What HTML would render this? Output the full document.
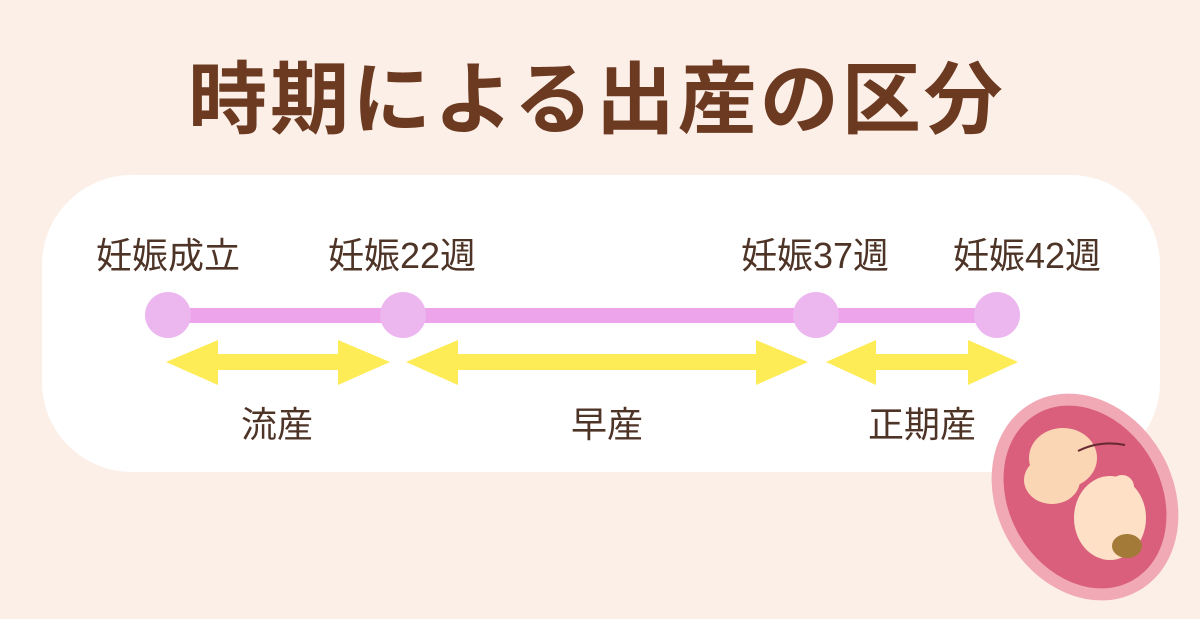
<!DOCTYPE html>
<html><head><meta charset="utf-8"><style>
html,body{margin:0;padding:0}
body{width:1200px;height:619px;background:#fcefe8;position:relative;overflow:hidden;font-family:"Liberation Sans","Noto Sans CJK JP",sans-serif;}
.t{position:absolute;white-space:nowrap;transform:translateX(-50%);color:#4e3427;font-size:36px;line-height:1}
h1{position:absolute;left:597px;top:60px;transform:translateX(-50%);margin:0;font-size:79px;font-weight:bold;color:#6b3a20;white-space:nowrap;line-height:1;letter-spacing:3px}
.panel{position:absolute;left:42px;top:175px;width:1118px;height:297px;background:#fff;border-radius:90px}
</style></head><body>
<h1>時期による出産の区分</h1>
<div class="panel"></div>
<div class="t" style="left:168px;top:238px">妊娠成立</div>
<div class="t" style="left:402px;top:238px">妊娠22週</div>
<div class="t" style="left:815px;top:238px">妊娠37週</div>
<div class="t" style="left:1027px;top:238px">妊娠42週</div>
<div class="t" style="left:277px;top:407px">流産</div>
<div class="t" style="left:607px;top:407px">早産</div>
<div class="t" style="left:922px;top:407px">正期産</div>
<svg width="1200" height="619" style="position:absolute;left:0;top:0">
<rect x="168" y="308" width="830" height="15" fill="#eda4ea"/>
<g fill="#ecb6ef">
<circle cx="168" cy="315" r="23"/><circle cx="403" cy="315" r="23"/><circle cx="816" cy="315" r="23"/><circle cx="997" cy="315" r="23"/>
</g>
<g fill="#fdec55">
<polygon points="166,362 218,340 218,354 338,354 338,340 390,362 338,385 338,370 218,370 218,385"/>
<polygon points="406,362 458,340 458,354 756,354 756,340 808,362 756,385 756,370 458,370 458,385"/>
<polygon points="826,362 876,340 876,354 968,354 968,340 1018,362 968,385 968,370 876,370 876,385"/>
</g>
<g transform="rotate(-30 1085 497)">
<ellipse cx="1085" cy="497" rx="88" ry="108" fill="#f1a9b5"/>
<ellipse cx="1085" cy="497" rx="76" ry="96" fill="#d95f7d"/>
</g>
<ellipse cx="1063" cy="458" rx="34" ry="30" fill="#fbd6b4"/>
<ellipse cx="1052" cy="480" rx="28" ry="24" fill="#fbd6b4"/>
<ellipse cx="1110" cy="518" rx="36" ry="42" fill="#fde0c6"/>
<circle cx="1122" cy="487" r="12" fill="#fde0c6"/>
<ellipse cx="1127" cy="546" rx="15" ry="12" fill="#a37a37"/>
<path d="M1078 451 Q1100 440 1125 445" stroke="#6a2b34" stroke-width="2" fill="none"/>
</svg>
</body></html>
